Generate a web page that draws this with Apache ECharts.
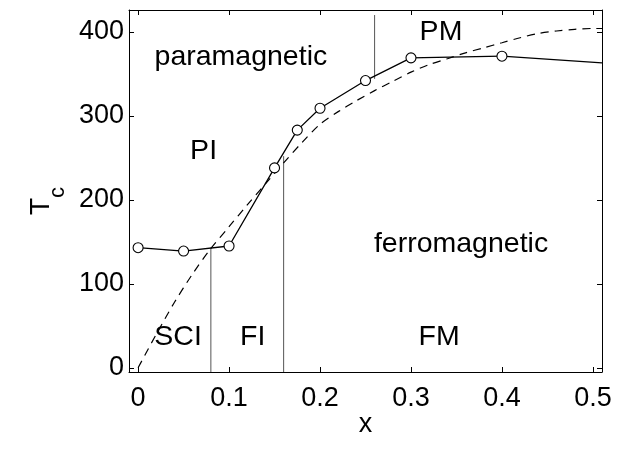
<!DOCTYPE html>
<html><head><meta charset="utf-8">
<script src="https://cdn.jsdelivr.net/npm/echarts@6/dist/echarts.min.js"></script>
<style>html,body{margin:0;padding:0;background:#fff}#c{width:636px;height:460px}</style>
</head><body><div id="c"></div>
<script>
// measured Tc (solid line with open circles)
const xMeasured = [0, 0.05, 0.1, 0.15, 0.175, 0.2, 0.25, 0.3, 0.4];
const tcMeasured = [143, 139, 145, 238, 283, 309, 342, 369, 371];
// continuation of the solid line beyond the last point
const xTail = [0.4, 0.51];
const tcTail = [371, 363];
// dashed curve
const xTheory = [0, 0.02, 0.04, 0.06, 0.08, 0.1, 0.12, 0.14, 0.16, 0.18, 0.2, 0.22, 0.24, 0.26, 0.28, 0.3, 0.32, 0.34, 0.36, 0.38, 0.4, 0.42, 0.44, 0.46, 0.48, 0.5, 0.51];
const tcTheory = [0, 40, 78, 112, 142, 168, 194, 219, 244, 268, 290, 305, 318, 330, 341, 352, 361, 368, 375, 381, 387, 393, 398, 401, 403, 404, 404];
// phase boundaries (vertical lines)
const boundaryX = [0.08, 0.16, 0.26];
const boundaryLow = [-5, -5, 344];
const boundaryHigh = [143, 252, 420];
// region labels
const regionNames = ['paramagnetic', 'PM', 'PI', 'ferromagnetic', 'SCI', 'FI', 'FM'];
const regionX = [0.113, 0.333, 0.072, 0.355, 0.044, 0.126, 0.331];
const regionY = [370, 400, 258, 147, 36, 36, 36];
// ticks
const xTicks = [0, 0.1, 0.2, 0.3, 0.4, 0.5];
const yTicks = [0, 100, 200, 300, 400];

const FONT = 'Liberation Sans';
const FS = 27;
const chart = echarts.init(document.getElementById('c'), null, {renderer: 'canvas'});

const pairs = (xs, ys) => xs.map((x, i) => [x, ys[i]]);

const series = [];
boundaryX.forEach((bx, i) => {
  series.push({
    type: 'line', data: [[bx, boundaryLow[i]], [bx, boundaryHigh[i]]],
    symbol: 'none', lineStyle: {color: '#555', width: 1}, silent: true, z: 1
  });
});
series.push({
  type: 'line', data: pairs(xTheory, tcTheory), smooth: 0.3, symbol: 'none',
  lineStyle: {color: '#000', width: 1.2, type: [8, 6]}, z: 2
});
series.push({
  type: 'line', data: pairs(xTail, tcTail), symbol: 'none',
  lineStyle: {color: '#000', width: 1.3}, z: 3
});
series.push({
  type: 'line', data: pairs(xMeasured, tcMeasured), symbol: 'circle', symbolSize: 10,
  showAllSymbol: true,
  itemStyle: {color: '#fff', borderColor: '#000', borderWidth: 1.1},
  lineStyle: {color: '#000', width: 1.3}, z: 4
});
series.push({
  type: 'scatter', data: regionNames.map((n, i) => ({name: n, value: [regionX[i], regionY[i]]})),
  symbol: 'rect', symbolSize: 0.01, itemStyle: {color: '#000', opacity: 1},
  label: {show: true, position: 'inside', formatter: '{b}', color: '#000', textBorderWidth: 0, opacity: 1,
    fontFamily: FONT, fontSize: 28.5},
  z: 5, silent: true
});

const xBase = {
  type: 'value', min: -0.01, max: 0.51,
  axisLine: {show: true, onZero: false, lineStyle: {color: '#000', width: 1}},
  axisTick: {show: true, inside: true, length: 5, customValues: xTicks, lineStyle: {color: '#000'}},
  splitLine: {show: false}
};
const yBase = {
  type: 'value', min: -5, max: 426,
  axisLine: {show: true, onZero: false, lineStyle: {color: '#000', width: 1}},
  axisTick: {show: true, inside: true, length: 5, customValues: yTicks, lineStyle: {color: '#000'}},
  splitLine: {show: false}
};

chart.setOption({
  animation: false,
  backgroundColor: '#fff',
  grid: {left: 129, right: 34, top: 10, bottom: 88, containLabel: false},
  xAxis: [
    Object.assign({}, xBase, {
      position: 'bottom',
      axisLabel: {show: true, customValues: xTicks, color: '#000', fontFamily: FONT, fontSize: FS, margin: 13,
        formatter: v => String(Math.round(v * 10) / 10)},
      name: 'x', nameLocation: 'middle', nameGap: 39, nameMoveOverlap: false,
      nameTextStyle: {color: '#000', fontFamily: FONT, fontSize: FS}
    }),
    Object.assign({}, xBase, {position: 'top', axisLabel: {show: false}})
  ],
  yAxis: [
    Object.assign({}, yBase, {
      position: 'left',
      axisLabel: {show: true, customValues: yTicks, color: '#000', fontFamily: FONT, fontSize: FS, margin: 5},
      name: '{t|T}{c|c}', nameLocation: 'middle', nameGap: 74, nameRotate: 90, nameMoveOverlap: false,
      nameTextStyle: {
        color: '#000', fontFamily: FONT, fontSize: 28,
        rich: {
          t: {fontFamily: FONT, fontSize: 28, color: '#000', verticalAlign: 'top', lineHeight: 28},
          c: {fontFamily: FONT, fontSize: 22, color: '#000', verticalAlign: 'top', lineHeight: 22, padding: [20, 20, 0, 0]}
        }
      }
    }),
    Object.assign({}, yBase, {position: 'right', axisLabel: {show: false}})
  ],
  series: series
});
</script></body></html>
